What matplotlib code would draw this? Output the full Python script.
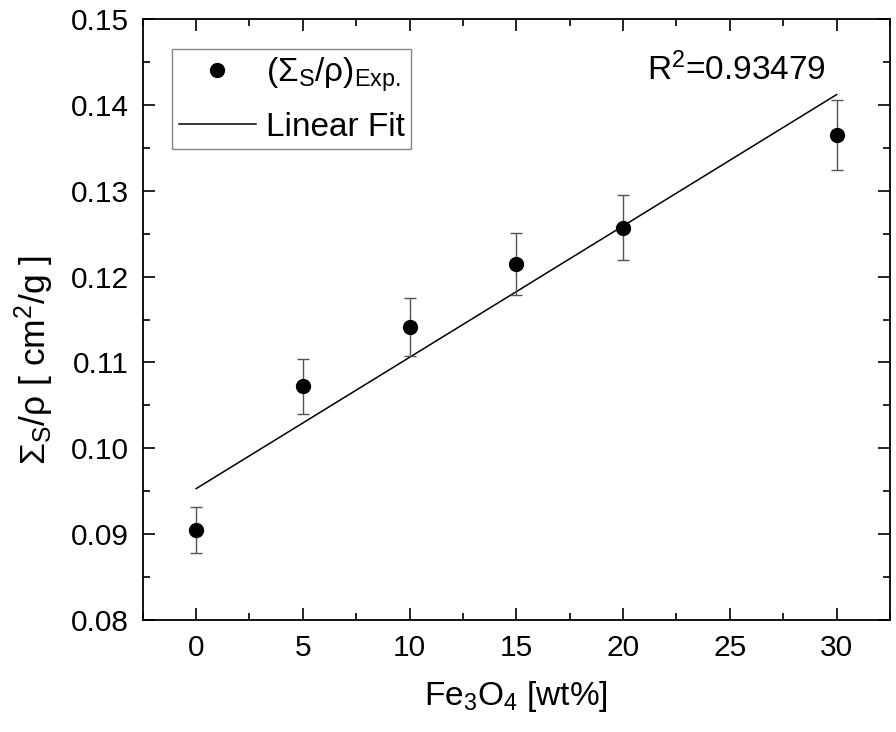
import matplotlib
matplotlib.use("Agg")
import matplotlib.pyplot as plt
import numpy as np
from matplotlib.ticker import MultipleLocator

plt.rcParams['font.family'] = ['Liberation Sans', 'DejaVu Sans']
plt.rcParams['mathtext.fontset'] = 'custom'
plt.rcParams['mathtext.rm'] = 'Liberation Sans'
plt.rcParams['mathtext.it'] = 'Liberation Sans'
plt.rcParams['mathtext.bf'] = 'Liberation Sans:bold'
plt.rcParams['mathtext.default'] = 'regular'

# Data
fe3o4_wt = [0, 5, 10, 15, 20, 30]
sigma_rho = [0.0905, 0.1072, 0.1141, 0.1215, 0.1257, 0.1365]
sigma_err = [0.0027, 0.0032, 0.0034, 0.0036, 0.0038, 0.0041]
fit_intercept = 0.0953
fit_slope = 0.00153
fit_x = [0, 30]
r_squared = "0.93479"
x_ticks = [0, 5, 10, 15, 20, 25, 30]
y_ticks = [0.08, 0.09, 0.10, 0.11, 0.12, 0.13, 0.14, 0.15]

fig = plt.figure(figsize=(8.96, 7.32), dpi=100)
ax = fig.add_axes([0.1593, 0.153, 0.834, 0.821])

fx = np.array(fit_x)
ax.plot(fx, fit_intercept + fit_slope * fx, color='black', lw=1.1, label='Linear Fit', zorder=2)
ax.errorbar(fe3o4_wt, sigma_rho, yerr=sigma_err, fmt='none', ecolor='#555555',
            elinewidth=1.0, capsize=4.5, capthick=1.0, zorder=3)
ax.plot(fe3o4_wt, sigma_rho, 'o', color='black', markersize=10, ls='none',
        label='(Σ$_S$/ρ)$_{Exp.}$', zorder=4)

ax.set_xlim(-2.5, 32.5)
ax.set_ylim(0.08, 0.15)
ax.set_xticks(x_ticks)
ax.set_yticks(y_ticks)
ax.set_yticklabels([f"{v:.2f}" for v in y_ticks])
ax.xaxis.set_minor_locator(MultipleLocator(2.5))
ax.yaxis.set_minor_locator(MultipleLocator(0.005))
ax.tick_params(which='both', direction='in', top=True, right=True, width=1.2)
ax.tick_params(which='major', length=8.5, labelsize=21.5, pad=10)
ax.tick_params(which='minor', length=5)
for s in ax.spines.values():
    s.set_linewidth(1.3)

ax.set_xlabel('Fe$_3$O$_4$ [wt%]', fontsize=24)
ax.xaxis.set_label_coords(0.5, -0.1415)
ax.xaxis.label.set_va('baseline')
ax.set_ylabel('Σ$_S$/ρ [ cm$^2$/g ]', fontsize=25.5)
ax.yaxis.set_label_coords(-0.1294, 0.4326)
ax.yaxis.label.set_va('baseline')

handles, labels = ax.get_legend_handles_labels()
leg = ax.legend(handles[::-1], labels[::-1], loc='upper left',
                bbox_to_anchor=(0.0396, 0.9496), borderaxespad=0,
                fontsize=24, frameon=True, fancybox=False, edgecolor='#666666',
                handlelength=2.3, handletextpad=0.3, borderpad=0.2,
                labelspacing=0.52)
leg.get_frame().set_linewidth(1.0)

ax.text(0.675, 0.8985, 'R$^2$=' + r_squared, transform=ax.transAxes,
        fontsize=24, va='baseline', ha='left')

fig.savefig('out.png', dpi=100)
